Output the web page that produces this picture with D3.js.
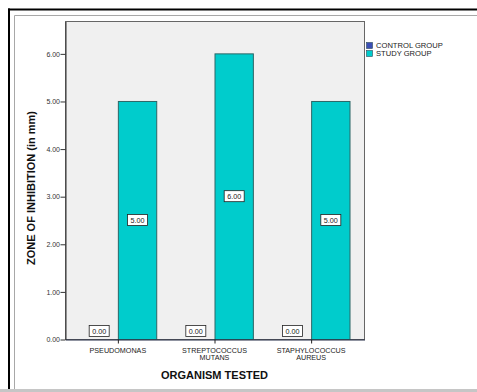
<!DOCTYPE html>
<html>
<head>
<meta charset="utf-8">
<script src="https://cdn.jsdelivr.net/npm/d3@7"></script>
<style>
  html, body { margin: 0; padding: 0; background: #fff; }
  svg { display: block; font-family: "Liberation Sans", Arial, sans-serif; }
</style>
</head>
<body>
<svg id="chart" width="477" height="392"></svg>
<script>
// Organisms tested (multi-line tick labels)
const categories = ["PSEUDOMONAS", "STREPTOCOCCUS MUTANS", "STAPHYLOCOCCUS AUREUS"];
const categoryLines = [["PSEUDOMONAS"], ["STREPTOCOCCUS", "MUTANS"], ["STAPHYLOCOCCUS", "AUREUS"]];
// Groups and their zone of inhibition (mm)
const groups = ["CONTROL GROUP", "STUDY GROUP"];
const controlValues = [0.00, 0.00, 0.00];
const studyValues = [5.00, 6.00, 5.00];
const yTicks = [0, 1, 2, 3, 4, 5, 6];
const groupColors = ["#3c4fb5", "#00cccc"];

const svg = d3.select("#chart");
const W = 477, H = 392;
const plot = { left: 65, right: 364, top: 21, bottom: 339 };

// Page frame
svg.append("rect").attr("x", 0).attr("y", 0).attr("width", W).attr("height", H).attr("fill", "#fff");
svg.append("line").attr("x1", 8).attr("x2", W).attr("y1", 9.5).attr("y2", 9.5)
  .attr("stroke", "#000").attr("stroke-width", 2);
svg.append("line").attr("x1", 9).attr("x2", 9).attr("y1", 8.5).attr("y2", H)
  .attr("stroke", "#000").attr("stroke-width", 2);
svg.append("line").attr("x1", 14.5).attr("x2", W).attr("y1", 15.5).attr("y2", 15.5)
  .attr("stroke", "#a8a8a8").attr("stroke-width", 1);
svg.append("line").attr("x1", 14.5).attr("x2", 14.5).attr("y1", 15.5).attr("y2", H)
  .attr("stroke", "#a8a8a8").attr("stroke-width", 1);
svg.append("rect").attr("x", 0).attr("y", 389).attr("width", W).attr("height", 3).attr("fill", "#c6c6c6");

// Scales
const x0 = d3.scaleBand().domain(categories)
  .range([plot.left, plot.right]).paddingInner(0.206).paddingOuter(0.15);
const x1 = d3.scaleBand().domain(groups).range([0, x0.bandwidth()]);
const y = d3.scaleLinear().domain([0, 6.68]).range([plot.bottom, plot.top]);

// Plot background
svg.append("rect")
  .attr("x", plot.left + 0.5).attr("y", plot.top + 0.5)
  .attr("width", plot.right - plot.left).attr("height", plot.bottom - plot.top)
  .attr("fill", "#f0f0f0").attr("stroke", "#666").attr("stroke-width", 1);

// Data rows
const rows = categories.map((c, i) => ({
  cat: c,
  vals: [
    { g: groups[0], v: controlValues[i] },
    { g: groups[1], v: studyValues[i] }
  ]
}));

const catG = svg.append("g").selectAll("g").data(rows).join("g")
  .attr("transform", d => `translate(${x0(d.cat)},0)`);

// Bars
catG.selectAll("rect.bar").data(d => d.vals).join("rect")
  .attr("class", "bar")
  .attr("x", d => x1(d.g) + 0.5)
  .attr("y", d => y(d.v) + 0.5)
  .attr("width", x1.bandwidth())
  .attr("height", d => y(0) - y(d.v))
  .attr("fill", (d, i) => groupColors[i])
  .attr("stroke", (d, i) => i === 1 ? "#2d6666" : "none")
  .attr("stroke-width", 1);

// Value labels
const lab = catG.selectAll("g.lab").data(d => d.vals).join("g")
  .attr("class", "lab")
  .attr("transform", d => {
    const cx = x1(d.g) + x1.bandwidth() / 2;
    const cy = d.v > 0 ? y(d.v / 2) : y(0) - 8;
    return `translate(${cx},${cy})`;
  });
lab.append("rect")
  .attr("x", -9.5).attr("y", -5.5).attr("width", 20).attr("height", 11)
  .attr("fill", "#fff").attr("stroke", "#222").attr("stroke-width", 0.8);
lab.append("text")
  .attr("x", 0.5).attr("y", 3)
  .attr("text-anchor", "middle")
  .attr("font-size", 7.2).attr("fill", "#222")
  .text(d => d.v.toFixed(2));

// Y axis
const yAxis = svg.append("g").attr("transform", `translate(${plot.left + 0.5},0.5)`)
  .call(d3.axisLeft(y).tickValues(yTicks).tickSize(5).tickSizeOuter(0).tickFormat(d => d.toFixed(2)));
yAxis.select(".domain").attr("stroke", "#333");
yAxis.selectAll(".tick line").attr("stroke", "#333");
yAxis.selectAll(".tick text").attr("font-size", 7).attr("fill", "#333")
  .attr("font-family", "Liberation Sans, Arial, sans-serif").attr("x", -5.5);

// X axis
const xAxis = svg.append("g").attr("transform", `translate(0.5,${plot.bottom + 0.5})`)
  .call(d3.axisBottom(x0).tickSize(4).tickSizeOuter(0).tickFormat(""));
xAxis.select(".domain").attr("stroke", "#222a44");
xAxis.selectAll(".tick line").attr("stroke", "#222");

// Category labels, one text per line
const catLabels = svg.append("g").selectAll("g").data(categories).join("g");
catLabels.each(function(d, i) {
  d3.select(this).selectAll("text").data(categoryLines[i]).join("text")
    .attr("x", x0(d) + x0.bandwidth() / 2)
    .attr("y", (t, j) => 352.5 + j * 7.6)
    .attr("text-anchor", "middle")
    .attr("font-size", 7.2).attr("fill", "#222")
    .text(t => t);
});

// Axis titles
svg.append("text")
  .attr("x", (plot.left + plot.right) / 2).attr("y", 379)
  .attr("text-anchor", "middle").attr("font-weight", "bold")
  .attr("font-size", 11).attr("fill", "#111")
  .text("ORGANISM TESTED");
svg.append("text")
  .attr("transform", `translate(35,${(plot.top + plot.bottom) / 2 + 8}) rotate(-90)`)
  .attr("text-anchor", "middle").attr("font-weight", "bold")
  .attr("font-size", 11).attr("fill", "#111")
  .text("ZONE OF INHIBITION (in mm)");

// Legend
const leg = svg.append("g").selectAll("g").data(groups).join("g")
  .attr("transform", (d, i) => `translate(366,${42 + i * 8})`);
leg.append("rect").attr("x", 0.5).attr("y", 0.5).attr("width", 6).attr("height", 6)
  .attr("fill", (d, i) => groupColors[i]).attr("stroke", "#2a4a5a").attr("stroke-width", 0.6);
leg.append("text").attr("x", 10).attr("y", 6.3)
  .attr("font-size", 7.6).attr("fill", "#222").text(d => d);
</script>
</body>
</html>
